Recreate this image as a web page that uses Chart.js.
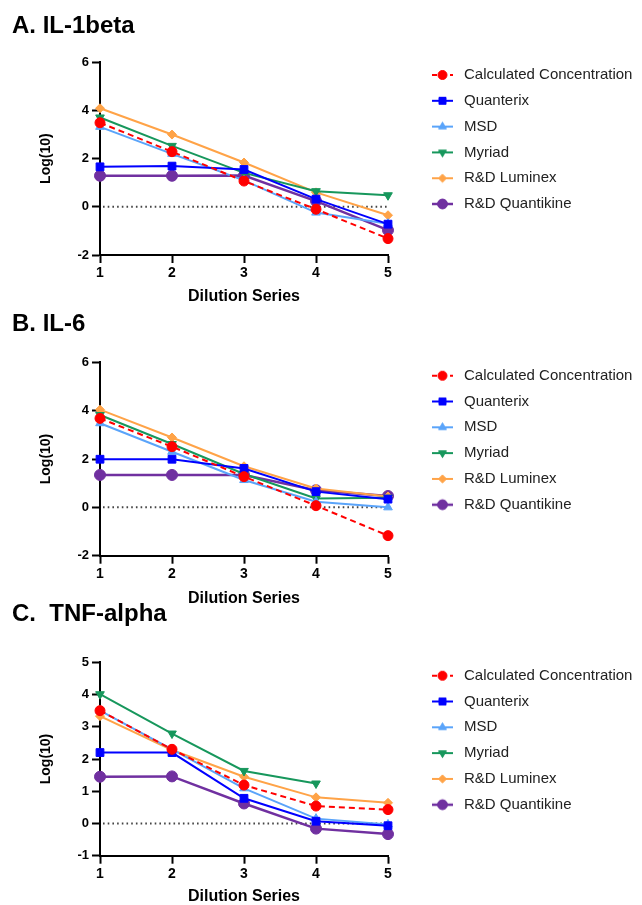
<!DOCTYPE html>
<html>
<head>
<meta charset="utf-8">
<script src="https://cdn.jsdelivr.net/npm/chart.js@4.4.1/dist/chart.umd.min.js"></script>
<style>
  html, body { margin: 0; padding: 0; background: #fff; overflow: hidden; }
  #wrap { position: relative; width: 642px; height: 905px; overflow: hidden; }
  canvas { position: absolute; left: 0; }
</style>
</head>
<body>
<div id="wrap">
  <canvas id="chartA" width="800" height="306" style="top:0px"></canvas>
  <canvas id="chartB" width="800" height="307" style="top:300px"></canvas>
  <canvas id="chartC" width="800" height="309" style="top:596px"></canvas>
</div>
<script>
// dilution steps (x axis)
const dilutions = ["1", "2", "3", "4", "5"];
const seriesNames = ["Calculated Concentration", "Quanterix", "MSD", "Myriad", "R&D Luminex", "R&D Quantikine"];

// A. IL-1beta
const il1Calculated = [3.49, 2.29, 1.07, -0.10, -1.32];
const il1Quanterix = [1.66, 1.69, 1.55, 0.32, -0.72];
const il1MSD = [3.32, 2.20, 1.10, -0.24, -0.70];
const il1Myriad = [3.71, 2.53, 1.41, 0.65, 0.48];
const il1Luminex = [4.09, 3.00, 1.84, 0.60, -0.35];
const il1Quantikine = [1.29, 1.29, 1.30, 0.24, -0.97];

// B. IL-6
const il6Calculated = [3.68, 2.51, 1.27, 0.07, -1.17];
const il6Quanterix = [1.99, 1.99, 1.61, 0.65, 0.34];
const il6MSD = [3.48, 2.30, 1.13, 0.23, 0.00];
const il6Myriad = [3.82, 2.62, 1.38, 0.37, 0.40];
const il6Luminex = [4.04, 2.89, 1.70, 0.78, 0.45];
const il6Quantikine = [1.34, 1.34, 1.34, 0.71, 0.47];

// C. TNF-alpha (Myriad has no value at step 5)
const tnfCalculated = [3.50, 2.30, 1.19, 0.54, 0.43];
const tnfQuanterix = [2.20, 2.20, 0.78, 0.07, -0.07];
const tnfMSD = [3.50, 2.30, 1.09, 0.15, -0.03];
const tnfMyriad = [4.01, 2.79, 1.63, 1.24, null];
const tnfLuminex = [3.33, 2.28, 1.45, 0.81, 0.64];
const tnfQuantikine = [1.45, 1.46, 0.62, -0.16, -0.33];

// y tick labels
const yTicksAB = [-2, 0, 2, 4, 6];
const yTicksC = [-1, 0, 1, 2, 3, 4, 5];

// look of each series
const seriesStyles = [
    { color: "#ff0000", dash: [6, 4], point: "circle", radius: 5, rotation: 0, width: 2 },
    { color: "#0000ff", dash: [], point: "rect", radius: 5.5, rotation: 0, width: 2 },
    { color: "#5aa4fa", dash: [], point: "triangle", radius: 5, rotation: 0, width: 2 },
    { color: "#17975c", dash: [], point: "triangle", radius: 5, rotation: 180, width: 2 },
    { color: "#ffa347", dash: [], point: "rectRot", radius: 4.5, rotation: 0, width: 2 },
    { color: "#7030a0", dash: [], point: "circle", radius: 5.5, rotation: 0, width: 2.5 },
];

const FONT = '"Liberation Sans", Arial, sans-serif';
Chart.defaults.font.family = FONT;
Chart.defaults.color = "#000";

const CANVAS_W = 800;
const PLOT_RIGHT = 388;   // x of dilution 5
const LEGEND_TEXT_X = 464;
const LEGEND_FONT = 15;

// legend text starts at LEGEND_TEXT_X: the legend box hugs the right padding,
// so the padding is set from the longest label (chart.js adds 10px to the box)
const meas = document.createElement("canvas").getContext("2d");
meas.font = LEGEND_FONT + "px " + FONT;
const longestLabel = Math.max(...seriesNames.map(n => meas.measureText(n).width));
const padRight = CANVAS_W - LEGEND_TEXT_X - longestLabel - 10;

// small line + marker picture for each legend entry
function legendIcon(s) {
    const c = document.createElement("canvas");
    c.width = 21;
    c.height = 14;
    const ctx = c.getContext("2d");
    ctx.strokeStyle = s.color;
    ctx.fillStyle = s.color;
    ctx.lineWidth = s.width;
    ctx.setLineDash(s.dash.length ? [5, 4] : []);
    ctx.beginPath();
    ctx.moveTo(0, 7);
    ctx.lineTo(21, 7);
    ctx.stroke();
    ctx.setLineDash([]);
    ctx.lineWidth = 1;
    Chart.helpers.drawPoint(ctx, { pointStyle: s.point, radius: s.radius * 0.9, rotation: s.rotation, borderWidth: 1 }, 10.5, 7);
    return c;
}
const legendIcons = seriesStyles.map(legendIcon);

// dotted line at y = 0
const zeroLine = {
    id: "zeroLine",
    beforeDatasetsDraw(chart) {
        const { ctx, chartArea, scales } = chart;
        const y = scales.y.getPixelForValue(0);
        ctx.save();
        ctx.strokeStyle = "#444";
        ctx.lineWidth = 2;
        ctx.setLineDash([1.6, 3.1]);
        ctx.beginPath();
        ctx.moveTo(chartArea.left + 3, y);
        ctx.lineTo(chartArea.right, y);
        ctx.stroke();
        ctx.restore();
    }
};

function makeChart(id, titleText, series, yTicks, g) {
    const datasets = series.map((vals, i) => {
        const s = seriesStyles[i];
        return {
            label: seriesNames[i],
            data: vals,
            borderColor: s.color,
            backgroundColor: s.color,
            borderWidth: s.width,
            borderDash: s.dash,
            pointStyle: s.point,
            pointRotation: s.rotation,
            pointRadius: s.radius,
            pointBorderWidth: 1,
            pointBackgroundColor: s.color,
            pointBorderColor: s.color,
            tension: 0,
            clip: false,
        };
    });

    return new Chart(document.getElementById(id), {
        type: "line",
        data: { labels: dilutions, datasets },
        plugins: [zeroLine],
        options: {
            responsive: false,
            animation: false,
            events: [],
            layout: { padding: { left: 12, right: padRight, top: 0, bottom: 0 } },
            plugins: {
                title: {
                    display: true,
                    text: titleText,
                    align: "start",
                    color: "#000",
                    font: { size: 24, weight: "bold", lineHeight: 1.2 },
                    padding: { top: g.titleTop, bottom: g.titleBottom },
                },
                legend: {
                    display: true,
                    position: "right",
                    align: "start",
                    fullSize: true,
                    maxWidth: 500,
                    title: { display: true, text: "", font: { size: 10, lineHeight: 1 }, padding: { top: g.legendTop - 10, bottom: 0 } },
                    labels: {
                        usePointStyle: true,
                        pointStyleWidth: 28,
                        padding: 10.8,
                        color: "#222",
                        font: { size: LEGEND_FONT },
                        // icons are already drawn the right way up, so no extra rotation
                        generateLabels: (chart) => Chart.defaults.plugins.legend.labels.generateLabels(chart)
                            .map((l, i) => Object.assign(l, { pointStyle: legendIcons[i], rotation: 0, lineWidth: 0 })),
                    },
                },
                tooltip: { enabled: false },
            },
            scales: {
                x: {
                    type: "category",
                    offset: false,
                    grid: { drawOnChartArea: false, drawTicks: true, tickLength: 8, tickWidth: 2, tickColor: "#000" },
                    border: { display: true, color: "#000", width: 2 },
                    ticks: { padding: 2, font: { size: 14, weight: "bold" }, color: "#000" },
                    title: {
                        display: true,
                        text: "Dilution Series",
                        color: "#000",
                        font: { size: 16, weight: "bold", lineHeight: 1 },
                        padding: { top: 0, bottom: g.xTitlePad },
                    },
                    afterFit(scale) { scale.height = g.xHeight; },
                },
                y: {
                    min: yTicks[0],
                    max: yTicks[yTicks.length - 1],
                    grid: { drawOnChartArea: false, drawTicks: true, tickLength: 8, tickWidth: 2, tickColor: "#000" },
                    border: { display: true, color: "#000", width: 2 },
                    ticks: { stepSize: yTicks[1] - yTicks[0], padding: 3, font: { size: 13, weight: "bold" }, color: "#000" },
                    title: {
                        display: true,
                        text: "Log(10)",
                        color: "#000",
                        font: { size: 14, weight: "bold", lineHeight: 1.2 },
                        padding: { top: 25.3, bottom: 0 },
                    },
                    afterFit(scale) { scale.width = 88; },
                },
                // empty gap between plot and legend, sized so the plot ends at PLOT_RIGHT
                gap: {
                    type: "linear",
                    position: "right",
                    display: true,
                    grid: { display: false },
                    border: { display: false },
                    ticks: { display: false },
                    afterFit(scale) {
                        const c = scale.chart;
                        scale.width = c.width - padRight - c.legend.width - PLOT_RIGHT;
                    },
                },
            },
        },
    });
}

makeChart("chartA", "A. IL-1beta",
    [il1Calculated, il1Quanterix, il1MSD, il1Myriad, il1Luminex, il1Quantikine], yTicksAB,
    { titleTop: 11.6, titleBottom: 21.9, xHeight: 51, xTitlePad: 1.3, legendTop: 56.7 });

makeChart("chartB", "B. IL-6",
    [il6Calculated, il6Quanterix, il6MSD, il6Myriad, il6Luminex, il6Quantikine], yTicksAB,
    { titleTop: 10.4, titleBottom: 23.1, xHeight: 51.3, xTitlePad: 0.7, legendTop: 57.4 });

makeChart("chartC", "C.  TNF-alpha",
    [tnfCalculated, tnfQuanterix, tnfMSD, tnfMyriad, tnfLuminex, tnfQuantikine], yTicksC,
    { titleTop: 4.4, titleBottom: 33.1, xHeight: 49.3, xTitlePad: 0.3, legendTop: 61.4 });
</script>
</body>
</html>
